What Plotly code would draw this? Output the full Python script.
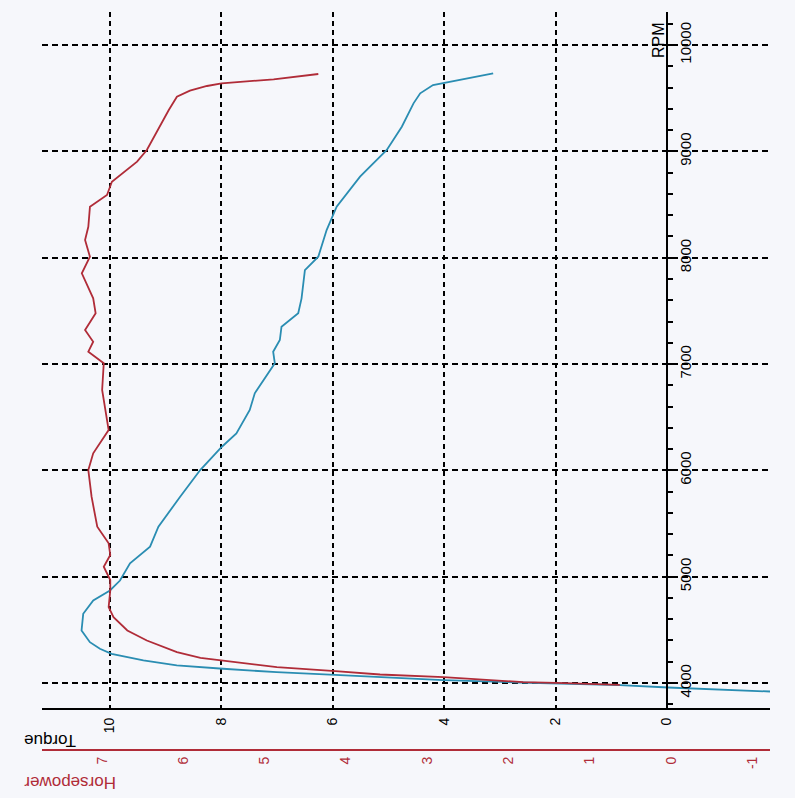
import plotly.graph_objects as go

# ---- data ----
torque_rpm = [9734, 9646, 9624, 9546, 9452, 9232, 9013, 8762, 8480, 8260, 8009, 7884, 7618,
              7477, 7351, 7226, 7116, 7007, 6725, 6568, 6348, 6222, 6003, 5752, 5470, 5282,
              5126, 4964, 4870, 4776, 4651, 4494, 4384, 4322, 4275, 4212, 4165, 4134, 4102,
              4077, 4055, 4028, 4005, 3981, 3958, 3920]
torque_val = [3.12, 3.99, 4.20, 4.43, 4.55, 4.76, 5.03, 5.51, 5.93, 6.11, 6.26, 6.50, 6.56,
              6.62, 6.92, 6.95, 7.07, 7.04, 7.40, 7.49, 7.73, 7.99, 8.38, 8.74, 9.13, 9.28,
              9.64, 9.82, 10.00, 10.30, 10.48, 10.51, 10.36, 10.18, 9.97, 9.40, 8.80, 7.97, 7.01,
              5.96, 5.15, 4.02, 2.64, 0.84, -0.02, -1.85]

hp_rpm = [9728, 9678, 9640, 9615, 9571, 9514, 9389, 9232, 9013, 8903, 8715, 8590, 8480, 8291,
          8166, 8009, 7853, 7618, 7477, 7320, 7210, 7116, 7007, 6756, 6379, 6160, 6003, 5752,
          5470, 5314, 5204, 5094, 4969, 4870, 4713, 4619, 4494, 4400, 4353, 4290, 4237, 4212,
          4149, 4111, 4080, 4055, 4030, 4008, 4002, 3983]
hp_val = [4.34, 4.89, 5.53, 5.71, 5.92, 6.08, 6.18, 6.29, 6.45, 6.57, 6.88, 6.94, 7.15, 7.17,
          7.21, 7.15, 7.25, 7.11, 7.08, 7.21, 7.11, 7.17, 6.98, 7.00, 6.92, 7.11, 7.17, 7.13,
          7.06, 6.92, 6.90, 6.98, 6.90, 6.90, 6.92, 6.86, 6.69, 6.45, 6.29, 6.08, 5.79, 5.51,
          4.85, 4.13, 3.58, 2.80, 2.27, 1.82, 1.41, 0.63]

torque_ticks = [0, 2, 4, 6, 8, 10]
hp_ticks = [-1, 0, 1, 2, 3, 4, 5, 6, 7]
rpm_ticks = [4000, 5000, 6000, 7000, 8000, 9000, 10000]

TEAL = "#2a8db2"
RED = "#b02c38"
BG = "#f6f7fb"

W, H = 795, 798
ML, MR, MT, MB = 42, 25, 12, 48
TORQUE_RANGE = [11.22, -1.85]
HP_RANGE = [7.74, -1.218]
RPM_RANGE = [3765, 10311]
Y_DOMAIN_BOTTOM = (H - MB - 708) / (H - MT - MB)


def px_x(px):
    return (px - ML) / (W - ML - MR)


def px_y(py):
    return (H - MB - py) / (H - MT - MB)


rpm_axis_pos = (TORQUE_RANGE[0] - 0) / (TORQUE_RANGE[0] - TORQUE_RANGE[1])

fig = go.Figure()
fig.add_trace(go.Scatter(x=torque_val, y=torque_rpm, mode="lines",
                         line=dict(color=TEAL, width=1.8), xaxis="x", yaxis="y",
                         name="Torque", showlegend=False))
fig.add_trace(go.Scatter(x=hp_val, y=hp_rpm, mode="lines",
                         line=dict(color=RED, width=1.8), xaxis="x2", yaxis="y",
                         name="Horsepower", showlegend=False))

font_family = "Liberation Sans, Arial, sans-serif"

fig.update_layout(
    width=W, height=H,
    margin=dict(l=ML, r=MR, t=MT, b=MB),
    paper_bgcolor=BG, plot_bgcolor=BG,
    font=dict(family=font_family, color="black"),
    xaxis=dict(
        range=TORQUE_RANGE, domain=[0, 1], anchor="y",
        tickmode="array", tickvals=torque_ticks, ticktext=[str(v) for v in torque_ticks],
        tickangle=-90, tickfont=dict(size=14, color="black"),
        showline=True, linecolor="black", linewidth=2,
        showgrid=True, gridcolor="black", gridwidth=1.6, griddash="5px,4px",
        zeroline=False, ticks="", ticklabelstandoff=2,
    ),
    xaxis2=dict(
        range=HP_RANGE, domain=[0, 1], overlaying="x", anchor="free", position=0,
        side="bottom",
        tickmode="array", tickvals=hp_ticks, ticktext=[str(v) for v in hp_ticks],
        tickangle=-90, tickfont=dict(size=14, color=RED),
        showline=True, linecolor=RED, linewidth=2,
        showgrid=False, zeroline=False, ticks="",
    ),
    yaxis=dict(
        range=RPM_RANGE, domain=[Y_DOMAIN_BOTTOM, 1], anchor="free",
        position=rpm_axis_pos, side="right",
        tickmode="array", tickvals=rpm_ticks, ticktext=[str(v) for v in rpm_ticks],
        tickangle=-90, tickfont=dict(size=15, color="black"),
        showline=True, linecolor="black", linewidth=2,
        ticks="outside", ticklen=5, tickwidth=2, tickcolor="black",
        minor=dict(dtick=200, ticks="outside", ticklen=5, tickwidth=2, tickcolor="black",
                   showgrid=False),
        showgrid=True, gridcolor="black", gridwidth=1.6, griddash="6px,4px",
        zeroline=False,
    ),
    annotations=[
        dict(text="RPM", x=px_x(659), y=px_y(40), xref="paper", yref="paper",
             xanchor="center", yanchor="middle",
             showarrow=False, textangle=-90, font=dict(size=16, color="black")),
        dict(text="Torque", x=px_x(50), y=px_y(741), xref="paper", yref="paper",
             xanchor="center", yanchor="middle",
             showarrow=False, textangle=180, font=dict(size=17, color="black")),
        dict(text="Horsepower", x=px_x(70), y=px_y(783), xref="paper", yref="paper",
             xanchor="center", yanchor="middle",
             showarrow=False, textangle=180, font=dict(size=17, color=RED)),
    ],
)

fig.write_html("out.html")
